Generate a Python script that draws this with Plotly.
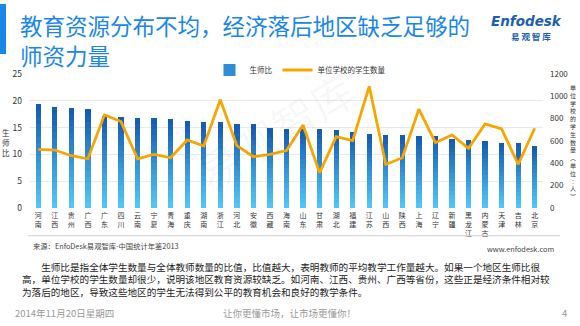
import plotly.graph_objects as go

provinces = ["河南", "江西", "贵州", "广西", "广东", "四川", "云南", "宁夏", "青海", "重庆",
             "湖南", "浙江", "河北", "安徽", "西藏", "海南", "山东", "甘肃", "湖北", "福建",
             "江苏", "山西", "陕西", "上海", "辽宁", "新疆", "黑龙江", "内蒙古", "天津", "吉林", "北京"]
ratio = [19.4, 18.8, 18.75, 18.4, 17.2, 16.9, 16.75, 16.75, 16.6, 16.25,
         16.1, 16.0, 15.7, 15.6, 14.9, 14.75, 14.7, 14.7, 14.55, 14.25,
         13.8, 13.7, 13.55, 13.45, 13.4, 12.9, 12.75, 12.5, 12.1, 12.05, 11.6]
students = [525, 519, 468, 441, 834, 774, 441, 480, 450, 609,
            555, 969, 558, 459, 480, 515, 744, 315, 639, 603,
            1089, 390, 450, 885, 585, 654, 534, 753, 708, 390, 714]
left_ticks = [0, 5, 10, 15, 20, 25]
right_ticks = [0, 200, 400, 600, 800, 1000, 1200]

W, H = 580, 326
ML, MR, MT, MB = 30, 37, 74, 118
PW, PH = W - ML - MR, H - MT - MB
FONT = "Noto Sans CJK SC"

def px(x):
    return (x - ML) / PW

def py(y):
    return (H - MB - y) / PH

fig = go.Figure()

# gradient bars: each bar split into stacked slices (light bottom -> dark top)
N = 16
c_bot = (80, 198, 246)
c_top = (20, 92, 180)
for k in range(N):
    t = k / (N - 1)
    col = "rgb(%d,%d,%d)" % tuple(round(c_bot[i] + (c_top[i] - c_bot[i]) * t) for i in range(3))
    fig.add_trace(go.Bar(
        x=provinces, y=[v / N for v in ratio], name="生师比",
        marker=dict(color=col, line=dict(width=0)),
        showlegend=(k == N // 2), legendgroup="r", legendrank=1,
        hoverinfo="skip", yaxis="y"))

fig.add_trace(go.Scatter(
    x=provinces, y=students, name="单位学校的学生数量", mode="lines",
    line=dict(color="#f7a600", width=2.8), yaxis="y2", legendrank=2))

fig.update_layout(
    width=W, height=H, margin=dict(l=ML, r=MR, t=MT, b=MB, autoexpand=False),
    paper_bgcolor="white", plot_bgcolor="white",
    font=dict(family=FONT, color="#333"),
    barmode="stack", bargap=0.68,
    xaxis=dict(
        tickmode="array", tickvals=provinces,
        ticktext=["<br>".join(list(p)) for p in provinces],
        tickfont=dict(size=7, color="#333"), showgrid=False, showline=False,
        ticks="", ticklabelstandoff=2),
    yaxis=dict(range=[0, 25], tickvals=left_ticks, showgrid=True, gridcolor="#e9e9e9",
               gridwidth=1, zeroline=False, showline=False,
               tickfont=dict(size=8.5, color="#333"), ticklabelstandoff=7),
    yaxis2=dict(range=[0, 1200], tickvals=right_ticks, overlaying="y", side="right",
                showgrid=False, zeroline=False, showline=False,
                tickfont=dict(size=8, color="#333"), ticklabelstandoff=6),
    legend=dict(orientation="h", x=px(300), xanchor="center", y=py(70), yanchor="middle",
                font=dict(size=7.5, color="#333"), bgcolor="rgba(0,0,0,0)",
                itemwidth=30, traceorder="normal"),
    showlegend=True,
)

ann = []
def text(x, y, s, size, color="#333", xanchor="left", **kw):
    ann.append(dict(x=px(x), y=py(y), xref="paper", yref="paper", text=s, showarrow=False,
                    xanchor=xanchor, yanchor="middle", font=dict(size=size, color=color, family=FONT),
                    **kw))

# title
text(18, 25, "教育资源分布不均，经济落后地区缺乏足够的", 22.5, "#1a86e8")
text(18, 55, "师资力量", 22.5, "#1a86e8")
# logo
ann.append(dict(x=px(526), y=py(20.5), xref="paper", yref="paper", showarrow=False,
                text="<b><i>Enfodesk</i></b>", xanchor="center", yanchor="middle",
                font=dict(size=13.5, color="#1d5fae", family="DejaVu Sans")))
text(531, 36, "<b>易 观 智 库</b>", 8.5, "#1d5fae", xanchor="center")
# watermark
ann.append(dict(x=px(275), y=py(130), xref="paper", yref="paper", showarrow=False,
                text="易观智库", textangle=-32, xanchor="center", yanchor="middle",
                font=dict(size=44, color="rgba(0,0,0,0.035)", family=FONT)))
# axis titles
text(6, 142, "生<br>师<br>比", 7.5, "#333", xanchor="center")
rt = list("单位学校的学生数量") + ["︵", "单", "位", "︰", "人", "︶"]
text(573, 142, "<br>".join(rt), 6, "#333", xanchor="center")
# source and site
text(31, 245.5, "来源：EnfoDesk易观智库-中国统计年鉴2013", 7.3, "#444")
text(556, 248.5, "www.enfodesk.com", 7.3, "#444", xanchor="right")
# paragraph
para = ("　　生师比是指全体学生数量与全体教师数量的比值，比值越大，表明教师的平均教学工作量越大。如果一个地区生师比很<br>"
        "高，单位学校的学生数量却很少，说明该地区教育资源较缺乏。如河南、江西、贵州、广西等省份，这些正是经济条件相对较<br>"
        "为落后的地区，导致这些地区的学生无法得到公平的教育机会和良好的教学条件。")
text(20, 279.6, para, 9.6, "#222", align="left")
# footer
text(13, 313, "2014年11月20日星期四", 9.5, "#999")
text(289, 313, "让你更懂市场，让市场更懂你！", 9.5, "#999", xanchor="center")
text(564, 313, "4", 9.5, "#999", xanchor="center")

fig.update_layout(annotations=ann)

fig.update_layout(shapes=[
    dict(type="rect", xref="paper", yref="paper", x0=px(0), x1=px(6), y0=py(4), y1=py(54),
         fillcolor="#1a86e8", line=dict(width=0)),
    dict(type="line", xref="paper", yref="paper", x0=px(28), x1=px(560), y0=py(235.7), y1=py(235.7),
         line=dict(color="#d2d2d2", width=1)),
])

fig.write_html("out.html")
